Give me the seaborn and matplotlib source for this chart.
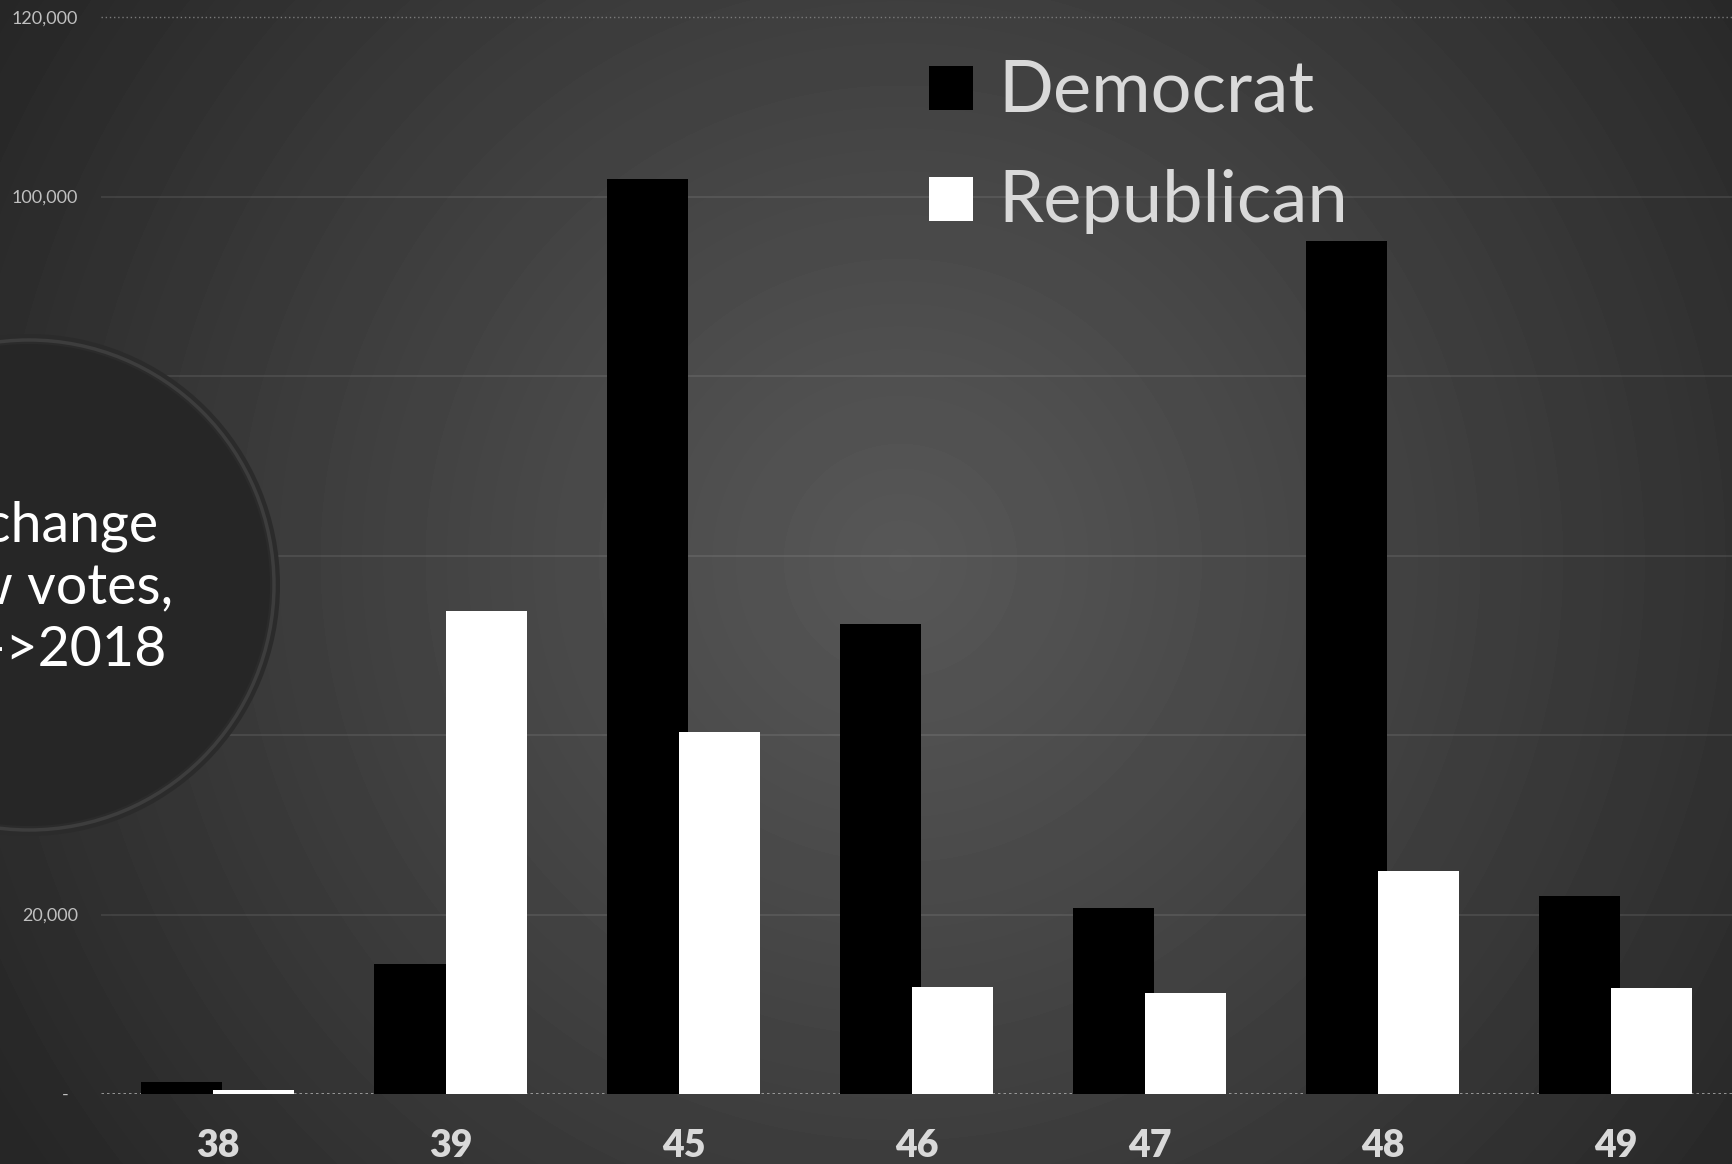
import numpy as np
import pandas as pd
import matplotlib
matplotlib.use("Agg")
import matplotlib.pyplot as plt
import seaborn as sns
from matplotlib.patches import Circle, Rectangle
from matplotlib.ticker import FuncFormatter

# ---------------- data ----------------
districts = ["38", "39", "45", "46", "47", "48", "49"]
democrat = [1300, 14500, 102000, 52400, 20700, 95000, 22100]
republican = [500, 53800, 40300, 11900, 11200, 24800, 11800]
parties = ["Democrat", "Republican"]
party_colors = ["#000000", "#ffffff"]
yticks = [0, 20000, 40000, 60000, 80000, 100000, 120000]
circle_lines = ["Net change", "in raw votes,", "2014->2018"]

df = pd.DataFrame({
    "district": districts * 2,
    "party": [parties[0]] * len(districts) + [parties[1]] * len(districts),
    "votes": democrat + republican,
})

# ---------------- figure ----------------
W, H = 1732, 1164
sns.set_theme(style="dark")
plt.rcParams["font.family"] = ["Lato", "DejaVu Sans"]

fig = plt.figure(figsize=(W / 100, H / 100), dpi=100)

# radial gradient background
bg = fig.add_axes([0, 0, 1, 1], zorder=0)
yy, xx = np.mgrid[0:H, 0:W]
d = np.hypot(xx - 900, (yy - 560) * 1.0)
val = 0x57 - (0x57 - 0x26) * np.clip(d / 1060.0, 0, 1) ** 1.1
bg.imshow(val, cmap="gray", vmin=0, vmax=255, extent=(0, W, H, 0),
          aspect="auto", interpolation="bilinear")
bg.set_xlim(0, W)
bg.set_ylim(H, 0)
bg.axis("off")

# main axes
ax = fig.add_axes([101 / W, (H - 1094) / H, (W - 101) / W, (1094 - 17) / H], zorder=1)
ax.patch.set_alpha(0)

sns.barplot(data=df, x="district", y="votes", hue="party", order=districts,
            hue_order=parties, palette=dict(zip(parties, party_colors)),
            width=0.616, dodge=True, saturation=1, errorbar=None,
            legend=False, linewidth=0, ax=ax)

for p in ax.patches:
    c = p.get_x() + p.get_width() / 2
    p.set_width(0.347)
    p.set_x(c - 0.347 / 2)
    p.set_zorder(2)

ax.set_xlim(-0.5, 6.5)
ax.set_ylim(0, 120000)
ax.set_yticks(yticks)
ax.grid(False)
for y in yticks[1:-1]:
    ax.axhline(y, color="white", alpha=0.09, lw=1.4, zorder=0.5)
ax.axhline(120000, color="#7a7a7a", lw=1.0, ls=(0, (1, 2)), zorder=0.5, clip_on=False)
ax.axhline(0, color="#b5b5b5", lw=1.8, ls=(0, (1, 1.2)), zorder=1)

for s in ax.spines.values():
    s.set_visible(False)
ax.set_xlabel("")
ax.set_ylabel("")
ax.yaxis.set_major_formatter(FuncFormatter(lambda v, _: "-  " if v == 0 else f"{int(v):,}"))
ax.tick_params(axis="y", length=0, pad=16.5, labelsize=13, labelcolor="#c0c0c0")
ax.tick_params(axis="x", length=0, pad=25, labelsize=27, labelcolor="#d9d9d9")
for lbl in ax.get_xticklabels():
    lbl.set_fontweight("heavy")

# overlay: circle + legend
ov = fig.add_axes([0, 0, 1, 1], zorder=5)
ov.set_xlim(0, W)
ov.set_ylim(H, 0)
ov.axis("off")
ov.patch.set_alpha(0)

ov.add_patch(Circle((29, 585), 251, color="#2b2b2b", lw=0))
ov.add_patch(Circle((29, 585), 245, fc="none", ec="#3d3d3d", lw=2.5))
ov.add_patch(Circle((29, 585), 241, color="#262626", lw=0))

for txt, xr, yb in zip(circle_lines, [158, 173, 167], [541, 603, 666]):
    ov.text(xr, yb, txt, ha="right", va="baseline", fontsize=40,
            fontweight="normal", color="#ffffff")

for i, (name, col) in enumerate(zip(parties, party_colors)):
    y0 = 66 + i * 111
    ov.add_patch(Rectangle((929, y0), 44, 44, color=col, lw=0))
    ov.text(998, y0 + 45, name, ha="left", va="baseline", fontsize=52,
            color="#d9d9d9")

fig.savefig("out.png", dpi=100)
